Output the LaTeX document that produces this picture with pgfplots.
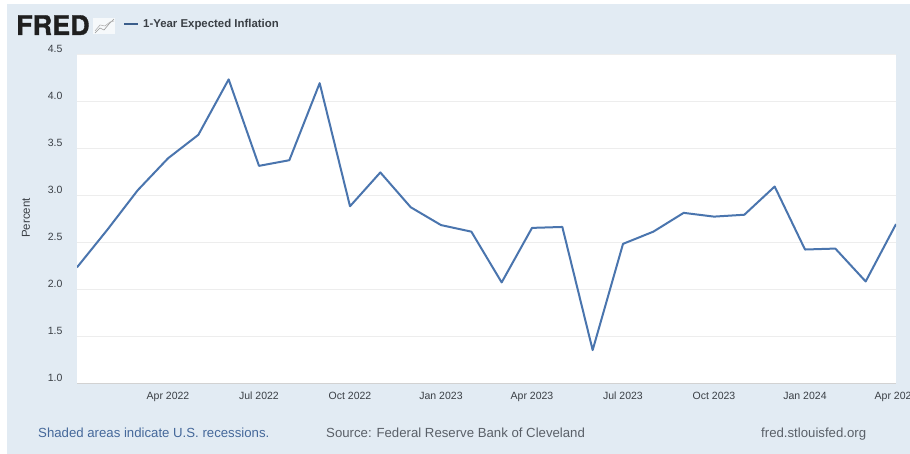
\documentclass[border=0pt]{standalone}
\usepackage{pgfplots}
\pgfplotsset{compat=1.18}
\usepackage{fontspec}
\setmainfont{Liberation Sans}
\newfontfamily\logofont[BoldFeatures={FakeBold=1.2}]{TeX Gyre Heros}
\definecolor{panel}{HTML}{E2EBF3}
\definecolor{fredline}{HTML}{4A75AE}
\definecolor{gridc}{HTML}{EDEDED}
\definecolor{tickc}{HTML}{3A3F45}
\definecolor{notec}{HTML}{45689A}
\definecolor{sourcec}{HTML}{5A6068}
\pgfplotstableread{
m value
0 2.23
1 2.63
2 3.05
3 3.39
4 3.64
5 4.23
6 3.31
7 3.37
8 4.19
9 2.88
10 3.24
11 2.87
12 2.68
13 2.61
14 2.07
15 2.65
16 2.66
17 1.35
18 2.48
19 2.61
20 2.81
21 2.77
22 2.79
23 3.09
24 2.42
25 2.43
26 2.08
27 2.69
}\inflation
\begin{document}
\begin{tikzpicture}[x=1pt,y=1pt]
\clip (0,0) rectangle (910,454);
\fill[white] (0,0) rectangle (910,454);
\fill[panel] (7,0) rectangle (910,450);
% FRED logo and legend
\node[anchor=base west,inner sep=0pt,text=black!88,font=\logofont\bfseries\fontsize{27}{28}\selectfont] at (16,419) {FRED};
\fill[white!70!panel] (93,420) rectangle (115,436);
\draw[gray!80,line width=0.6pt] (95,421) -- (100,426) -- (104,424) -- (109,430) -- (114,435);
\draw[gray!60,line width=0.6pt] (95,423) -- (100,429) -- (105,428) -- (110,432) -- (114,433);
\draw[fredline!80!black,line width=1.4pt] (124,430) -- (138,430);
\node[anchor=base west,inner sep=0pt,text=tickc,font=\fontsize{11.4}{13}\selectfont\bfseries] at (143,426) {1-Year Expected Inflation};
\begin{axis}[
  at={(77pt,71pt)}, anchor=south west,
  scale only axis, width=819pt, height=329pt,
  xmin=0, xmax=27, ymin=1, ymax=4.5,
  axis background/.style={fill=white},
  axis x line*=bottom, axis y line*=left,
  x axis line style={draw=gray!35,-},
  y axis line style={draw=none,-},
  xtick={3,6,9,12,15,18,21,24,27},
  xticklabels={Apr 2022,Jul 2022,Oct 2022,Jan 2023,Apr 2023,Jul 2023,Oct 2023,Jan 2024,Apr 2024},
  ytick={1,1.5,2,2.5,3,3.5,4,4.5},
  yticklabel style={/pgf/number format/fixed,/pgf/number format/fixed zerofill,/pgf/number format/precision=1,/pgf/number format/assume math mode=true,
    font=\fontsize{10.5}{12}\selectfont,text=tickc,yshift=5pt,xshift=-11pt},
  xticklabel style={font=\fontsize{10.5}{12}\selectfont,text=tickc,text height=8pt,text depth=2pt,yshift=-5pt},
  major tick length=0pt,
  ymajorgrids, major grid style={draw=gridc,line width=0.6pt},
  clip=true,
]
\addplot[color=fredline,line width=2pt,line join=round] table[x=m,y=value] {\inflation};
\end{axis}
\node[rotate=90,inner sep=0pt,text=tickc,font=\fontsize{11.5}{13}\selectfont] at (26,236) {Percent};
\node[anchor=base west,inner sep=0pt,text=notec,font=\fontsize{13.2}{15}\selectfont] at (38,16) {Shaded areas indicate U.S. recessions.};
\node[anchor=base west,inner sep=0pt,text=sourcec,font=\fontsize{13.2}{15}\selectfont] at (326,16) {Source: Federal Reserve Bank of Cleveland};
\node[anchor=base west,inner sep=0pt,text=sourcec,font=\fontsize{13.2}{15}\selectfont] at (761,16) {fred.stlouisfed.org};
\end{tikzpicture}
\end{document}
